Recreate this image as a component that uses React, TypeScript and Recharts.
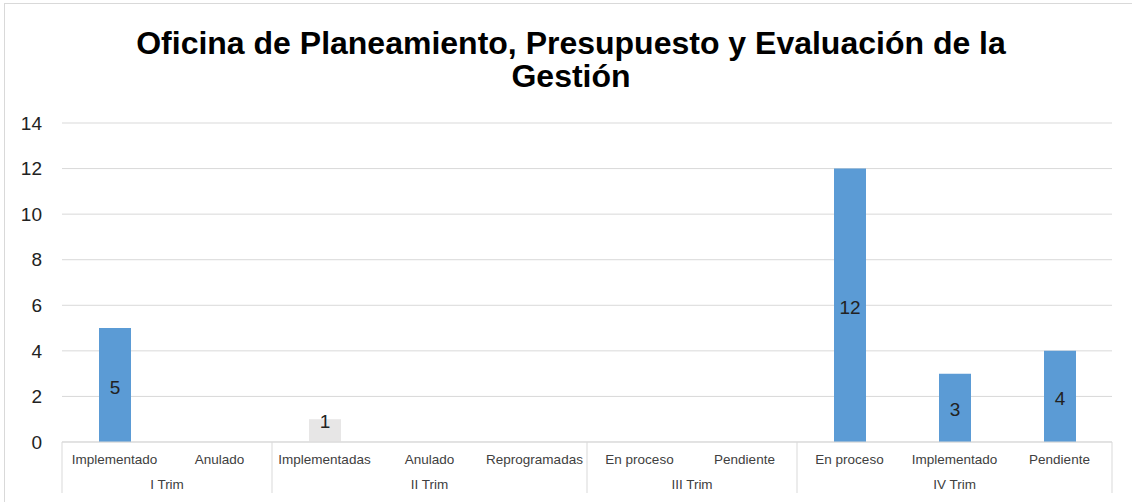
import { BarChart, Bar, XAxis, YAxis, CartesianGrid, LabelList, Cell } from 'recharts';

// categories (bottom level) and their quarter groups
const categories = [
  'Implementado', 'Anulado',
  'Implementadas', 'Anulado', 'Reprogramadas',
  'En proceso', 'Pendiente',
  'En proceso', 'Implementado', 'Pendiente',
];
const groupNames = ['I Trim', 'II Trim', 'III Trim', 'IV Trim'];
const groupSizes = [2, 3, 2, 3];
const values: (number | null)[] = [5, null, 1, null, null, null, null, 12, 3, 4];
const barColors = ['#5B9BD5', '#5B9BD5', '#E7E6E6', '#5B9BD5', '#5B9BD5', '#5B9BD5', '#5B9BD5', '#5B9BD5', '#5B9BD5', '#5B9BD5'];
const yTicks = [0, 2, 4, 6, 8, 10, 12, 14];

const W = 1132;
const H = 502;
const PLOT_LEFT = 62;
const PLOT_RIGHT = 1112;
const PLOT_TOP = 123;
const PLOT_BOTTOM = 442;
const BAND = (PLOT_RIGHT - PLOT_LEFT) / categories.length;
const GRID = '#D9D9D9';
const FONT = 'Liberation Sans, Arial, sans-serif';

const data = categories.map((c, i) => ({ cat: c, key: `${i}`, value: values[i] }));

// group start indices
const groupStarts: number[] = [];
groupSizes.reduce((acc, n) => {
  groupStarts.push(acc);
  return acc + n;
}, 0);

const CatTick = (props: any) => {
  const { x, payload } = props;
  return (
    <text x={x} y={PLOT_BOTTOM + 22} textAnchor="middle" fontSize={13.5} fill="#404040" fontFamily={FONT}>
      {categories[payload.index]}
    </text>
  );
};

const GroupTick = (props: any) => {
  const { x, payload } = props;
  const idx = payload.index;
  const g = groupStarts.indexOf(idx);
  const last = idx === categories.length - 1;
  return (
    <g>
      {g >= 0 && (
        <>
          <line x1={x - BAND / 2} x2={x - BAND / 2} y1={PLOT_BOTTOM} y2={PLOT_BOTTOM + 51} stroke={GRID} />
          <text
            x={x + ((groupSizes[g] - 1) * BAND) / 2}
            y={PLOT_BOTTOM + 47}
            textAnchor="middle"
            fontSize={13.5}
            fill="#404040"
            fontFamily={FONT}
          >
            {groupNames[g]}
          </text>
        </>
      )}
      {last && <line x1={x + BAND / 2} x2={x + BAND / 2} y1={PLOT_BOTTOM} y2={PLOT_BOTTOM + 51} stroke={GRID} />}
    </g>
  );
};

// value label: centred in the bar, pushed up for very short bars
const ValueLabel = (props: any) => {
  const { x, y, width, height, value } = props;
  if (value == null) return null;
  const cy = height < 30 ? y + 2 : y + height / 2 + 2;
  return (
    <text x={x + width / 2} y={cy} dy="0.35em" textAnchor="middle" fontSize={19} fill="#222" fontFamily={FONT}>
      {value}
    </text>
  );
};

export default function App() {
  return (
    <div style={{ position: 'absolute', left: 0, top: 0, width: W, height: H, background: '#fff', overflow: 'hidden' }}>
      <div
        style={{
          position: 'absolute',
          left: 4,
          top: 3,
          width: W,
          height: H,
          borderTop: `1px solid ${GRID}`,
          borderLeft: `1px solid ${GRID}`,
        }}
      />
      <div
        style={{
          position: 'absolute',
          left: 0,
          top: 27,
          width: 1142,
          textAlign: 'center',
          fontFamily: FONT,
          fontWeight: 'bold',
          fontSize: 32,
          lineHeight: '33px',
          color: '#000',
        }}
      >
        Oficina de Planeamiento, Presupuesto y Evaluación de la
        <br />
        Gestión
      </div>
      <div style={{ position: 'absolute', left: 0, top: 0 }}>
        <BarChart
          width={W}
          height={H}
          data={data}
          margin={{ top: PLOT_TOP, right: W - PLOT_RIGHT, left: 0, bottom: 0 }}
          barSize={32}
        >
          <CartesianGrid vertical={false} stroke={GRID} />
          <XAxis
            xAxisId={0}
            dataKey="key"
            height={30}
            tick={<CatTick />}
            tickLine={false}
            axisLine={{ stroke: GRID }}
            interval={0}
          />
          <XAxis
            xAxisId="group"
            dataKey="key"
            height={30}
            tick={<GroupTick />}
            tickLine={false}
            axisLine={false}
            interval={0}
          />
          <YAxis
            width={PLOT_LEFT}
            domain={[0, 14]}
            ticks={yTicks}
            axisLine={false}
            tickLine={false}
            tickMargin={14}
            tick={{ fontSize: 19, fill: '#222', fontFamily: FONT }}
          />
          <Bar dataKey="value" xAxisId={0} isAnimationActive={false}>
            {data.map((d, i) => (
              <Cell key={d.key} fill={barColors[i]} />
            ))}
            <LabelList dataKey="value" content={<ValueLabel />} />
          </Bar>
        </BarChart>
      </div>
    </div>
  );
}
